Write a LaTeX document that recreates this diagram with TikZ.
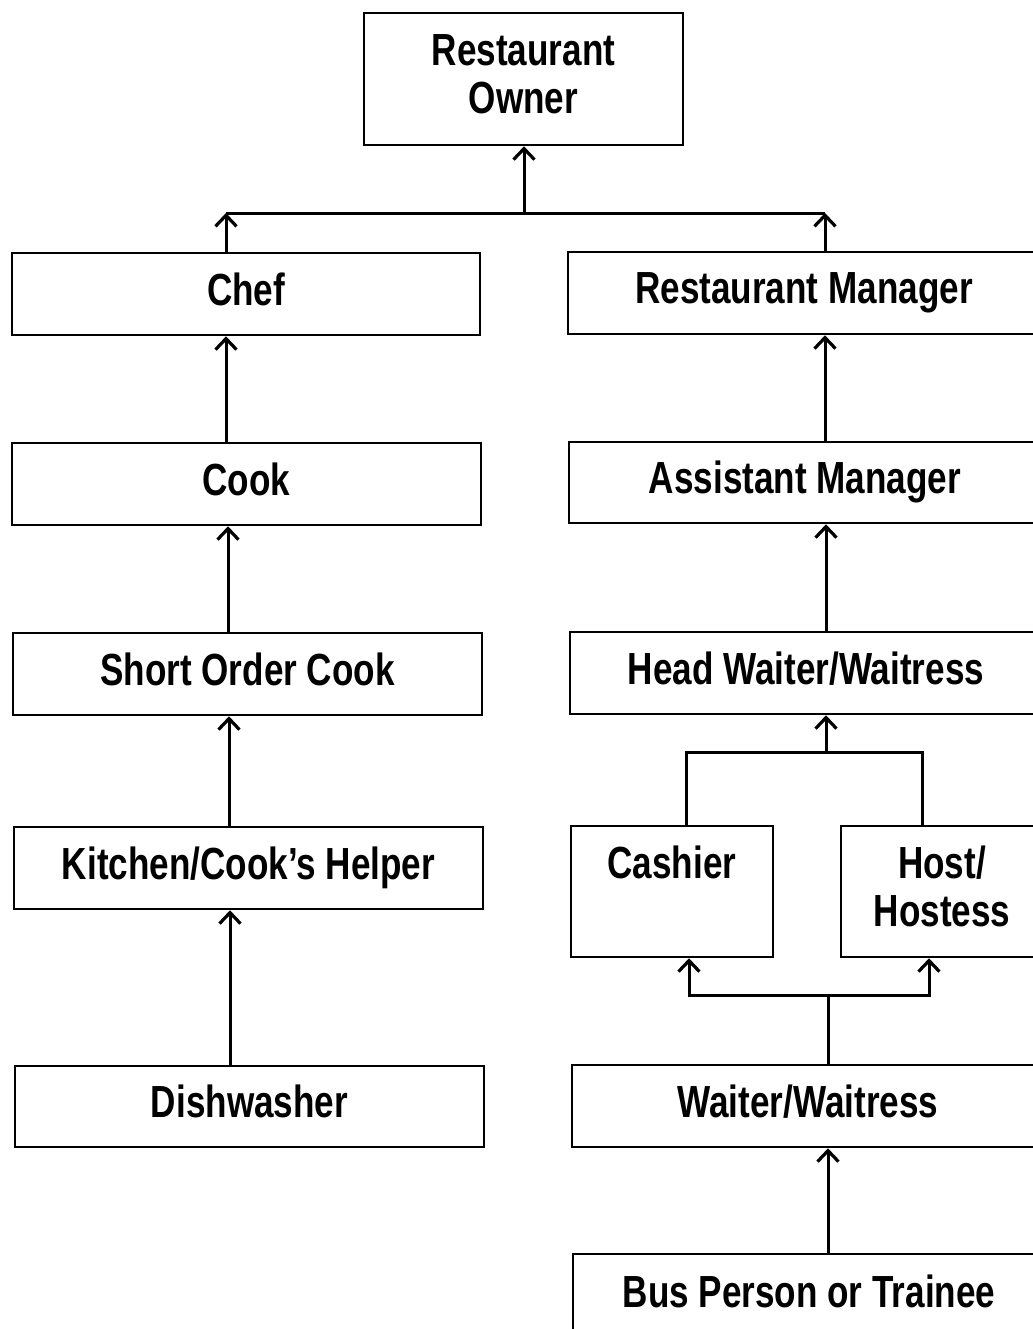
\documentclass[tikz,border=0pt]{standalone}
\usepackage{fontspec}
\setmainfont{Liberation Sans}[FakeStretch=0.78]
\usetikzlibrary{arrows.meta}
\begin{document}
\begin{tikzpicture}[x=0.5pt,y=-0.5pt,
  box/.style={draw, line width=1.3pt, inner sep=0pt, align=center,
    font=\fontsize{22.5pt}{24pt}\selectfont\bfseries,
    execute at end node={\rule[-5pt]{0pt}{5pt}}},
  conn/.style={line width=1.5pt},
  arr/.style={line width=1.5pt, -{Straight Barb[length=5.5pt,width=10.5pt,line width=1.6pt]}}]
\useasboundingbox (0,0) rectangle (1033,1329);
\clip (0,0) rectangle (1033,1329);
% boxes
\node[box, minimum width=159.5pt, minimum height=66pt] (owner) at (523.5,79) {Restaurant\\Owner};
\node[box, minimum width=234pt, minimum height=41pt] (chef) at (246,294) {Chef};
\node[box, minimum width=236pt, minimum height=41pt] (rm) at (804,293) {Restaurant Manager};
\node[box, minimum width=234.5pt, minimum height=41pt] (cook) at (246.5,484) {Cook};
\node[box, minimum width=236pt, minimum height=40.5pt] (am) at (805,482.5) {Assistant Manager};
\node[box, minimum width=234.5pt, minimum height=41pt] (soc) at (247.5,674) {Short Order Cook};
\node[box, minimum width=236pt, minimum height=41pt] (hw) at (806,673) {Head Waiter/Waitress};
\node[box, minimum width=234.5pt, minimum height=41pt] (kch) at (248.5,868) {Kitchen/Cook’s Helper};
\node[box, minimum width=101pt, minimum height=65.5pt] (cash) at (672,891.5) {Cashier\\\phantom{Hostess}};
\node[box, minimum width=101pt, minimum height=65.5pt] (host) at (942,891.5) {Host/\\Hostess};
\node[box, minimum width=234.5pt, minimum height=40.5pt] (dish) at (249.5,1106.5) {Dishwasher};
\node[box, minimum width=236pt, minimum height=41pt] (ww) at (808,1106) {Waiter/Waitress};
\node[box, minimum width=236pt, minimum height=42pt] (bus) at (809,1296) {Bus Person or Trainee};
% helper coordinates
\coordinate (busL) at (226,213);
\coordinate (busR) at (825,213);
\coordinate (busM) at (524,213);
\coordinate (xa) at (226,0);
\coordinate (xb) at (228,0);
\coordinate (xc) at (229,0);
\coordinate (xd) at (230,0);
\coordinate (xe) at (825,0);
\coordinate (xf) at (826,0);
\coordinate (xg) at (828,0);
\coordinate (hL) at (686,752);
\coordinate (hR) at (922,752);
\coordinate (lL) at (689,995);
\coordinate (lR) at (929,995);
\coordinate (lM) at (828,995);
% top
\draw[conn] (busL) -- (busR);
\draw[arr] (busM) -- (busM |- owner.south);
\draw[arr] (chef.north -| busL) -- (busL);
\draw[arr] (rm.north -| busR) -- (busR);
% left column
\draw[arr] (cook.north -| xa) -- (chef.south -| xa);
\draw[arr] (soc.north -| xb) -- (cook.south -| xb);
\draw[arr] (kch.north -| xc) -- (soc.south -| xc);
\draw[arr] (dish.north -| xd) -- (kch.south -| xd);
% right column
\draw[arr] (am.north -| xe) -- (rm.south -| xe);
\draw[arr] (hw.north -| xf) -- (am.south -| xf);
\draw[conn] (cash.north -| hL) -- (hL) -- (hR) -- (host.north -| hR);
\draw[arr] (hL -| xf) -- (hw.south -| xf);
\draw[conn] (ww.north -| lM) -- (lM);
\draw[arr] (lM) -- (lL) -- (cash.south -| lL);
\draw[arr] (lM) -- (lR) -- (host.south -| lR);
\draw[arr] (bus.north -| xg) -- (ww.south -| xg);
\end{tikzpicture}
\end{document}
